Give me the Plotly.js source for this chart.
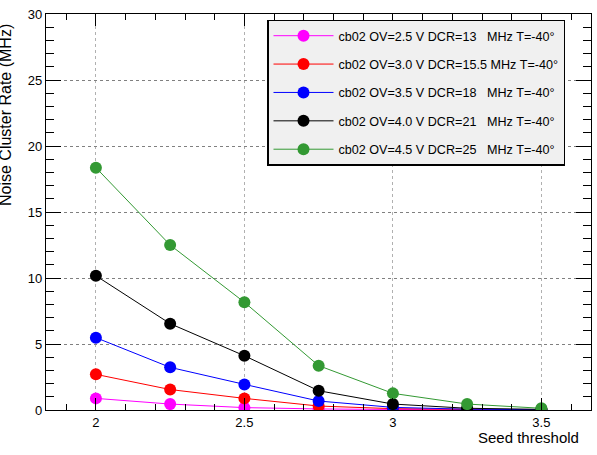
<!DOCTYPE html>
<html>
<head>
<meta charset="utf-8">
<script src="https://cdn.plot.ly/plotly-3.0.1.min.js"></script>
<style>html,body{margin:0;padding:0;background:#fff;}#chart{width:597px;height:455px;}</style>
</head>
<body>
<div id="chart"></div>
<script>
// Seed threshold values (x)
var thresholds = [2, 2.25, 2.5, 2.75, 3, 3.25, 3.5];
// Noise cluster rate (MHz) per over-voltage
var ov25 = [0.88, 0.45, 0.18, 0.08, 0.04, 0.01, 0.005];
var ov30 = [2.70, 1.55, 0.88, 0.30, 0.10, 0.03, 0.01];
var ov35 = [5.48, 3.23, 1.94, 0.68, 0.20, 0.06, 0.02];
var ov40 = [10.17, 6.54, 4.11, 1.46, 0.45, 0.13, 0.05];
var ov45 = [18.36, 12.50, 8.16, 3.36, 1.26, 0.45, 0.13];
var seriesNames = [
  'cb02 OV=2.5 V DCR=13   MHz T=-40°',
  'cb02 OV=3.0 V DCR=15.5 MHz T=-40°',
  'cb02 OV=3.5 V DCR=18   MHz T=-40°',
  'cb02 OV=4.0 V DCR=21   MHz T=-40°',
  'cb02 OV=4.5 V DCR=25   MHz T=-40°'
];
var seriesValues = [ov25, ov30, ov35, ov40, ov45];
var seriesColors = ['#ff00ff', '#ff0000', '#0000ff', '#000000', '#339933'];
var xTitle = 'Seed threshold';
var yTitle = 'Noise Cluster Rate (MHz)';

var font = 'Liberation Sans, Arial, Helvetica, sans-serif';
var traces = seriesValues.map(function (vals, i) {
  return {
    x: thresholds, y: vals, type: 'scatter', mode: 'lines+markers',
    name: seriesNames[i].replace(/ /g, '\u00A0'),
    legendgroup: 'g' + i,
    line: {color: seriesColors[i], width: 1},
    marker: {color: seriesColors[i], size: 12, symbol: 'circle'}
  };
});

var W = 597, H = 455, L = 46, R = 6, T = 14, B = 45;
var pw = W - L - R, ph = H - T - B;
function px(xp) { return (xp - L) / pw; }
function py(yp) { return (H - B - yp) / ph; }

var layout = {
  width: W, height: H,
  margin: {l: L, r: R, t: T, b: B, pad: 0},
  paper_bgcolor: '#ffffff', plot_bgcolor: '#ffffff',
  font: {family: font, color: '#000', size: 13},
  showlegend: true,
  legend: {
    x: px(267), y: py(19.5), xanchor: 'left', yanchor: 'top',
    bgcolor: '#f0f0f0', bordercolor: '#000', borderwidth: 1.5,
    font: {family: font, size: 12.6, color: '#000'},
    traceorder: 'grouped', tracegroupgap: 9, itemwidth: 60
  },
  xaxis: {
    range: [1.832, 3.667], dtick: 0.5, tick0: 2,
    ticks: 'inside', ticklen: 12, tickcolor: '#000', tickwidth: 1,
    minor: {dtick: 0.1, tick0: 2, ticks: 'inside', ticklen: 6, tickcolor: '#000', showgrid: false},
    showline: true, linecolor: '#000', linewidth: 1.2, mirror: 'ticks',
    showgrid: true, gridcolor: '#b0b0b0', griddash: 'dot', gridwidth: 1,
    zeroline: false, tickfont: {family: font, size: 13}
  },
  yaxis: {
    range: [0, 30], dtick: 5, tick0: 0,
    ticks: 'inside', ticklen: 15, tickcolor: '#000', tickwidth: 1,
    minor: {dtick: 1, tick0: 0, ticks: 'inside', ticklen: 8, tickcolor: '#000', showgrid: false},
    showline: true, linecolor: '#000', linewidth: 1.2, mirror: 'ticks',
    showgrid: true, gridcolor: '#808080', griddash: 'dot', gridwidth: 1,
    zeroline: false, tickfont: {family: font, size: 13}
  },
  annotations: [
    {text: xTitle, xref: 'paper', yref: 'paper', x: px(581), y: py(437),
     xanchor: 'right', yanchor: 'middle', showarrow: false,
     font: {family: font, size: 15, color: '#000'}},
    {text: yTitle, xref: 'paper', yref: 'paper', x: px(5), y: py(22),
     xanchor: 'center', yanchor: 'top', textangle: -90, showarrow: false,
     font: {family: font, size: 16, color: '#000'}}
  ]
};

Plotly.newPlot('chart', traces, layout, {displayModeBar: false, staticPlot: true});
</script>
</body>
</html>
